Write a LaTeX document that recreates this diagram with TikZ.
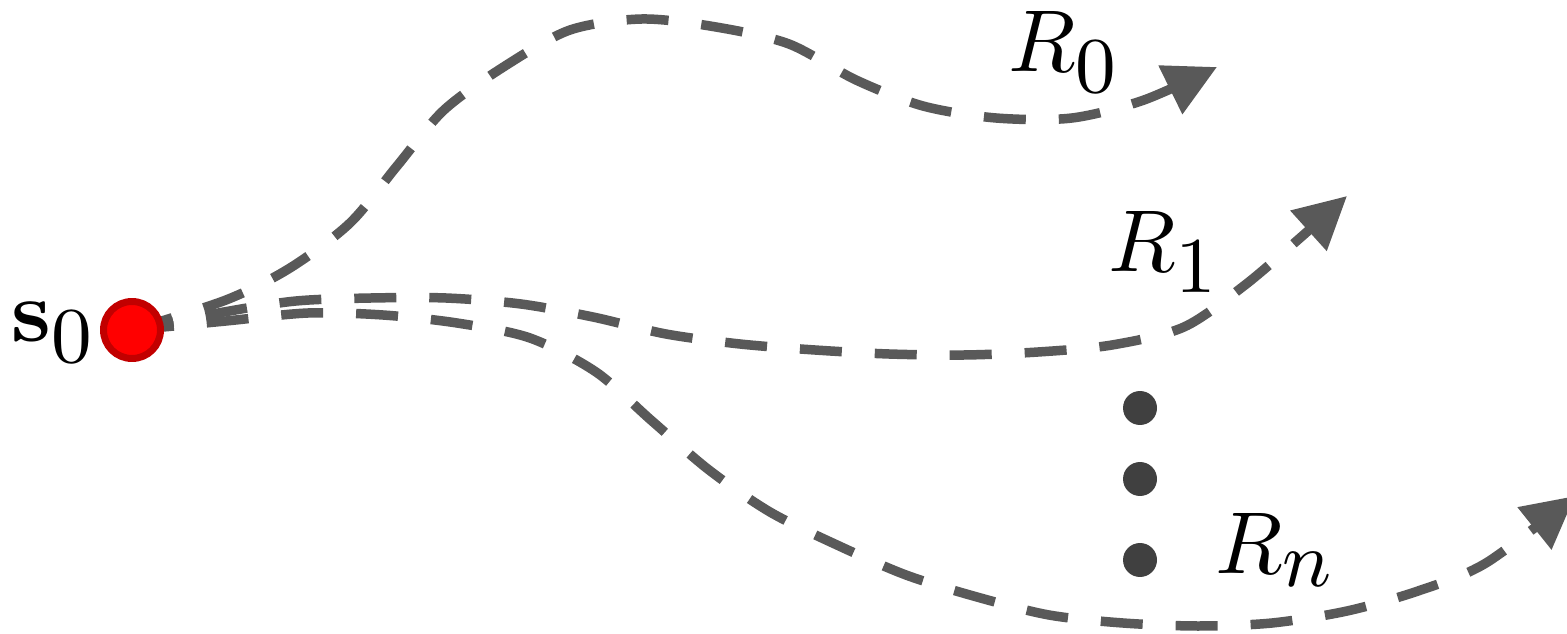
\documentclass[tikz,border=0pt]{standalone}
\usetikzlibrary{arrows.meta}
\DeclareMathSizes{10}{10}{9}{7}
\definecolor{routegray}{HTML}{595959}
\definecolor{dotgray}{HTML}{404040}
\definecolor{startrim}{HTML}{C20000}
\pgfdeclarelayer{background}
\pgfsetlayers{background,main}
\newcommand{\biglabel}[1]{\scalebox{5}{$#1$}}
\begin{document}
\begin{tikzpicture}[x=0.02cm,y=-0.02cm,
  routeline/.style={draw=routegray, line width=0.19cm, line cap=butt,
    dash pattern=on 0.84cm off 0.66cm,
    -{Triangle[length=1.04cm,width=1.04cm]}},
  lbl/.style={inner sep=0pt, anchor=base west, font=\fontsize{10}{12}\selectfont},
  vdot/.style={circle, fill=dotgray, inner sep=0pt, minimum size=0.68cm},
  startdot/.style={circle, fill=red, draw=startrim, line width=0.14cm,
    inner sep=0pt, minimum size=1.14cm}]
\useasboundingbox (0,0) rectangle (1567,634);

% start state
\node[startdot] (s0) at (132,330) {};
\node[lbl] (s0lbl) at (11,342) {\biglabel{\mathbf{s}_0}};

% arrow tips of the three rollouts
\coordinate (t0) at (1217,67);
\coordinate (t1) at (1347,196);
\coordinate (tn) at (1575,496);

\begin{pgfonlayer}{background}
\draw[routeline] plot[smooth] coordinates {(s0.center) (226,300) (290,268)
  (350,223) (397,166) (444,110) (505,66) (570,30) (642,19) (716,27) (789,44)
  (856,80) (923,106) (996,118) (1072,118) (1144,100) (t0)};
\draw[routeline] plot[smooth] coordinates {(s0.center) (224,312) (296,301)
  (371,298) (446,298) (521,304) (593,317) (666,334) (740,344) (815,350)
  (889,354) (964,355) (1038,352) (1112,345) (1184,327) (1245,285) (1300,238)
  (t1)};
\draw[routeline] plot[smooth] coordinates {(s0.center) (226,321) (308,313)
  (383,315) (457,323) (530,338) (596,372) (652,421) (709,470) (770,512)
  (837,545) (906,575) (977,597) (1049,615) (1123,623) (1198,626) (1272,623)
  (1347,611) (1418,591) (1486,563) (tn)};
\end{pgfonlayer}

% rollout labels
\node[lbl] (r0) at (1008,72) {\biglabel{R_0}};
\node[lbl] (r1) at (1108,272) {\biglabel{R_1}};
\node[lbl] (rn) at (1215,573) {\biglabel{R_n}};

% vertical ellipsis
\node[vdot] (d1) at (1140,408) {};
\node[vdot] (d2) at (1140,479) {};
\node[vdot] (d3) at (1140,560) {};
\end{tikzpicture}
\end{document}
